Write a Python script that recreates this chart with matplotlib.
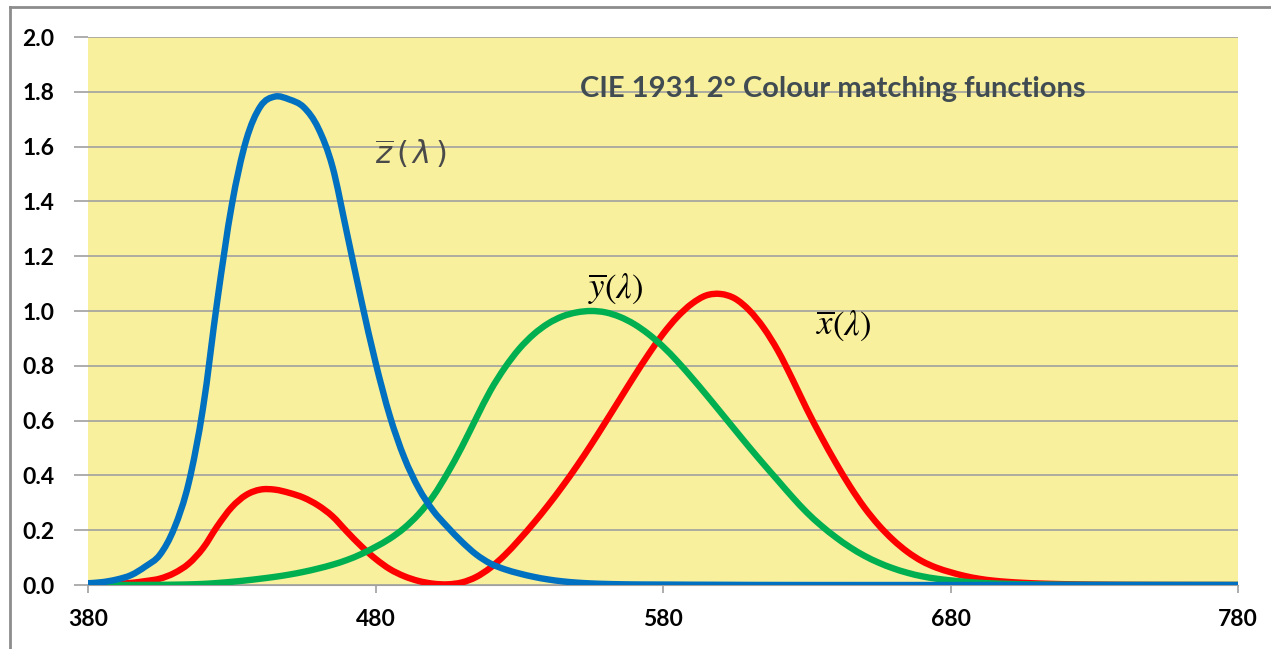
import numpy as np
import matplotlib.pyplot as plt
from matplotlib.lines import Line2D
from matplotlib.path import Path
from matplotlib.patches import PathPatch

# CIE 1931 2-degree colour matching functions, 5 nm steps
wavelength = list(range(380, 785, 5))
x_bar = [0.001368, 0.002236, 0.004243, 0.00765, 0.01431, 0.02319, 0.04351, 0.07763,
         0.13438, 0.21477, 0.2839, 0.3285, 0.34828, 0.34806, 0.3362, 0.3187,
         0.2908, 0.2511, 0.19536, 0.1421, 0.09564, 0.05795, 0.03201, 0.0147,
         0.0049, 0.0024, 0.0093, 0.0291, 0.06327, 0.1096, 0.1655, 0.22575,
         0.2904, 0.3597, 0.43345, 0.51205, 0.5945, 0.6784, 0.7621, 0.8425,
         0.9163, 0.9786, 1.0263, 1.0567, 1.0622, 1.0456, 1.0026, 0.9384,
         0.85445, 0.7514, 0.6424, 0.5419, 0.4479, 0.3608, 0.2835, 0.2187,
         0.1649, 0.1212, 0.0874, 0.0636, 0.04677, 0.0329, 0.0227, 0.01584,
         0.011359, 0.008111, 0.00579, 0.004109, 0.002899, 0.002049, 0.00144, 0.001,
         0.00069, 0.000476, 0.000332, 0.000235, 0.000166, 0.000117, 0.000083, 0.000059,
         0.000042]
y_bar = [0.000039, 0.000064, 0.00012, 0.000217, 0.000396, 0.00064, 0.00121, 0.00218,
         0.004, 0.0073, 0.0116, 0.01684, 0.023, 0.0298, 0.038, 0.048,
         0.06, 0.0739, 0.09098, 0.1126, 0.13902, 0.1693, 0.20802, 0.2586,
         0.323, 0.4073, 0.503, 0.6082, 0.71, 0.7932, 0.862, 0.91485,
         0.954, 0.9803, 0.99495, 1.0, 0.995, 0.9786, 0.952, 0.9154,
         0.87, 0.8163, 0.757, 0.6949, 0.631, 0.5668, 0.503, 0.4412,
         0.381, 0.321, 0.265, 0.217, 0.175, 0.1382, 0.107, 0.0816,
         0.061, 0.04458, 0.032, 0.0232, 0.017, 0.01192, 0.00821, 0.005723,
         0.004102, 0.002929, 0.002091, 0.001484, 0.001047, 0.00074, 0.00052, 0.000361,
         0.000249, 0.000172, 0.00012, 0.000085, 0.00006, 0.000042, 0.00003, 0.000021,
         0.000015]
z_bar = [0.00645, 0.01055, 0.02005, 0.03621, 0.06785, 0.1102, 0.2074, 0.3713,
         0.6456, 1.03905, 1.3856, 1.62296, 1.74706, 1.7826, 1.77211, 1.7441,
         1.6692, 1.5281, 1.28764, 1.0419, 0.81295, 0.6162, 0.46518, 0.3533,
         0.272, 0.2123, 0.1582, 0.1117, 0.07825, 0.05725, 0.04216, 0.02984,
         0.0203, 0.0134, 0.00875, 0.00575, 0.0039, 0.00275, 0.0021, 0.0018,
         0.00165, 0.0014, 0.0011, 0.001, 0.0008, 0.0006, 0.00034, 0.00024,
         0.00019, 0.0001, 0.00005, 0.00003, 0.00002, 0.00001] + [0.0] * 27

x_ticks = [380, 480, 580, 680, 780]
y_ticks = np.arange(0, 2.01, 0.2)

plt.rcParams['font.family'] = ['Lato', 'DejaVu Sans']
plt.rcParams['mathtext.fontset'] = 'stix'


def smooth_line(ax, xs, ys, **kw):
    """Smoothed line through the points, drawn as cubic Bezier segments."""
    p = np.column_stack([xs, ys]).astype(float)
    verts = [p[0]]
    codes = [Path.MOVETO]
    n = len(p)
    for i in range(n - 1):
        p0 = p[max(i - 1, 0)]
        p3 = p[min(i + 2, n - 1)]
        c1 = p[i] + (p[i + 1] - p0) / 6
        c2 = p[i + 1] - (p3 - p[i]) / 6
        verts += [c1, c2, p[i + 1]]
        codes += [Path.CURVE4] * 3
    ax.add_patch(PathPatch(Path(verts, codes), fill=False, **kw))


fig = plt.figure(figsize=(12.71, 6.49), dpi=100)
ax = fig.add_axes([88 / 1271, 64 / 649, 1150 / 1271, 548 / 649])
ax.set_facecolor('#F8F09C')

smooth_line(ax, wavelength, x_bar, edgecolor='#FF0000', lw=4.6, capstyle='butt', zorder=3)
smooth_line(ax, wavelength, y_bar, edgecolor='#00B050', lw=4.6, capstyle='butt', zorder=4)
smooth_line(ax, wavelength, z_bar, edgecolor='#0070C0', lw=4.6, capstyle='butt', zorder=5)

ax.set_xlim(380, 780)
ax.set_ylim(0, 2.0)
ax.set_xticks(x_ticks)
ax.set_yticks(y_ticks)
ax.set_yticklabels([f'{v:.1f}' for v in y_ticks])
ax.yaxis.grid(True, color='#A0A0A0', lw=1.2)
ax.set_axisbelow(True)
for side in ['top', 'right', 'left']:
    ax.spines[side].set_visible(False)
ax.spines['bottom'].set_color('#A0A0A0')
ax.tick_params(axis='both', labelsize=16.5, colors='#A0A0A0', labelcolor='black', width=1.2)
ax.tick_params(axis='x', pad=11, length=6)
ax.tick_params(axis='y', pad=14, length=10)
for lab in ax.get_xticklabels() + ax.get_yticklabels():
    lab.set_fontweight('bold')

ax.text((580 - 88) / 1150, 0.905, 'CIE 1931 2° Colour matching functions',
        transform=ax.transAxes, fontsize=21, fontweight='bold', color='#404B52', va='center')
ax.text(492.5, 1.575, r'$\overline{z}\,(\,\lambda\,)$', fontsize=22, color='#4A4A4A',
        ha='center', va='center', math_fontfamily='dejavusans')
ax.text(563.5, 1.08, r'$\overline{y}(\lambda)$', fontsize=25, color='black',
        ha='center', va='center')
ax.text(643, 0.945, r'$\overline{x}(\lambda)$', fontsize=25, color='black',
        ha='center', va='center')

# outer chart frame
fig.add_artist(Line2D([10 / 1271, 1], [1 - 7 / 649] * 2, color='#8C8C8C', lw=2))
fig.add_artist(Line2D([10 / 1271] * 2, [0, 1 - 7 / 649], color='#8C8C8C', lw=2))

fig.savefig('out.png', dpi=100)
